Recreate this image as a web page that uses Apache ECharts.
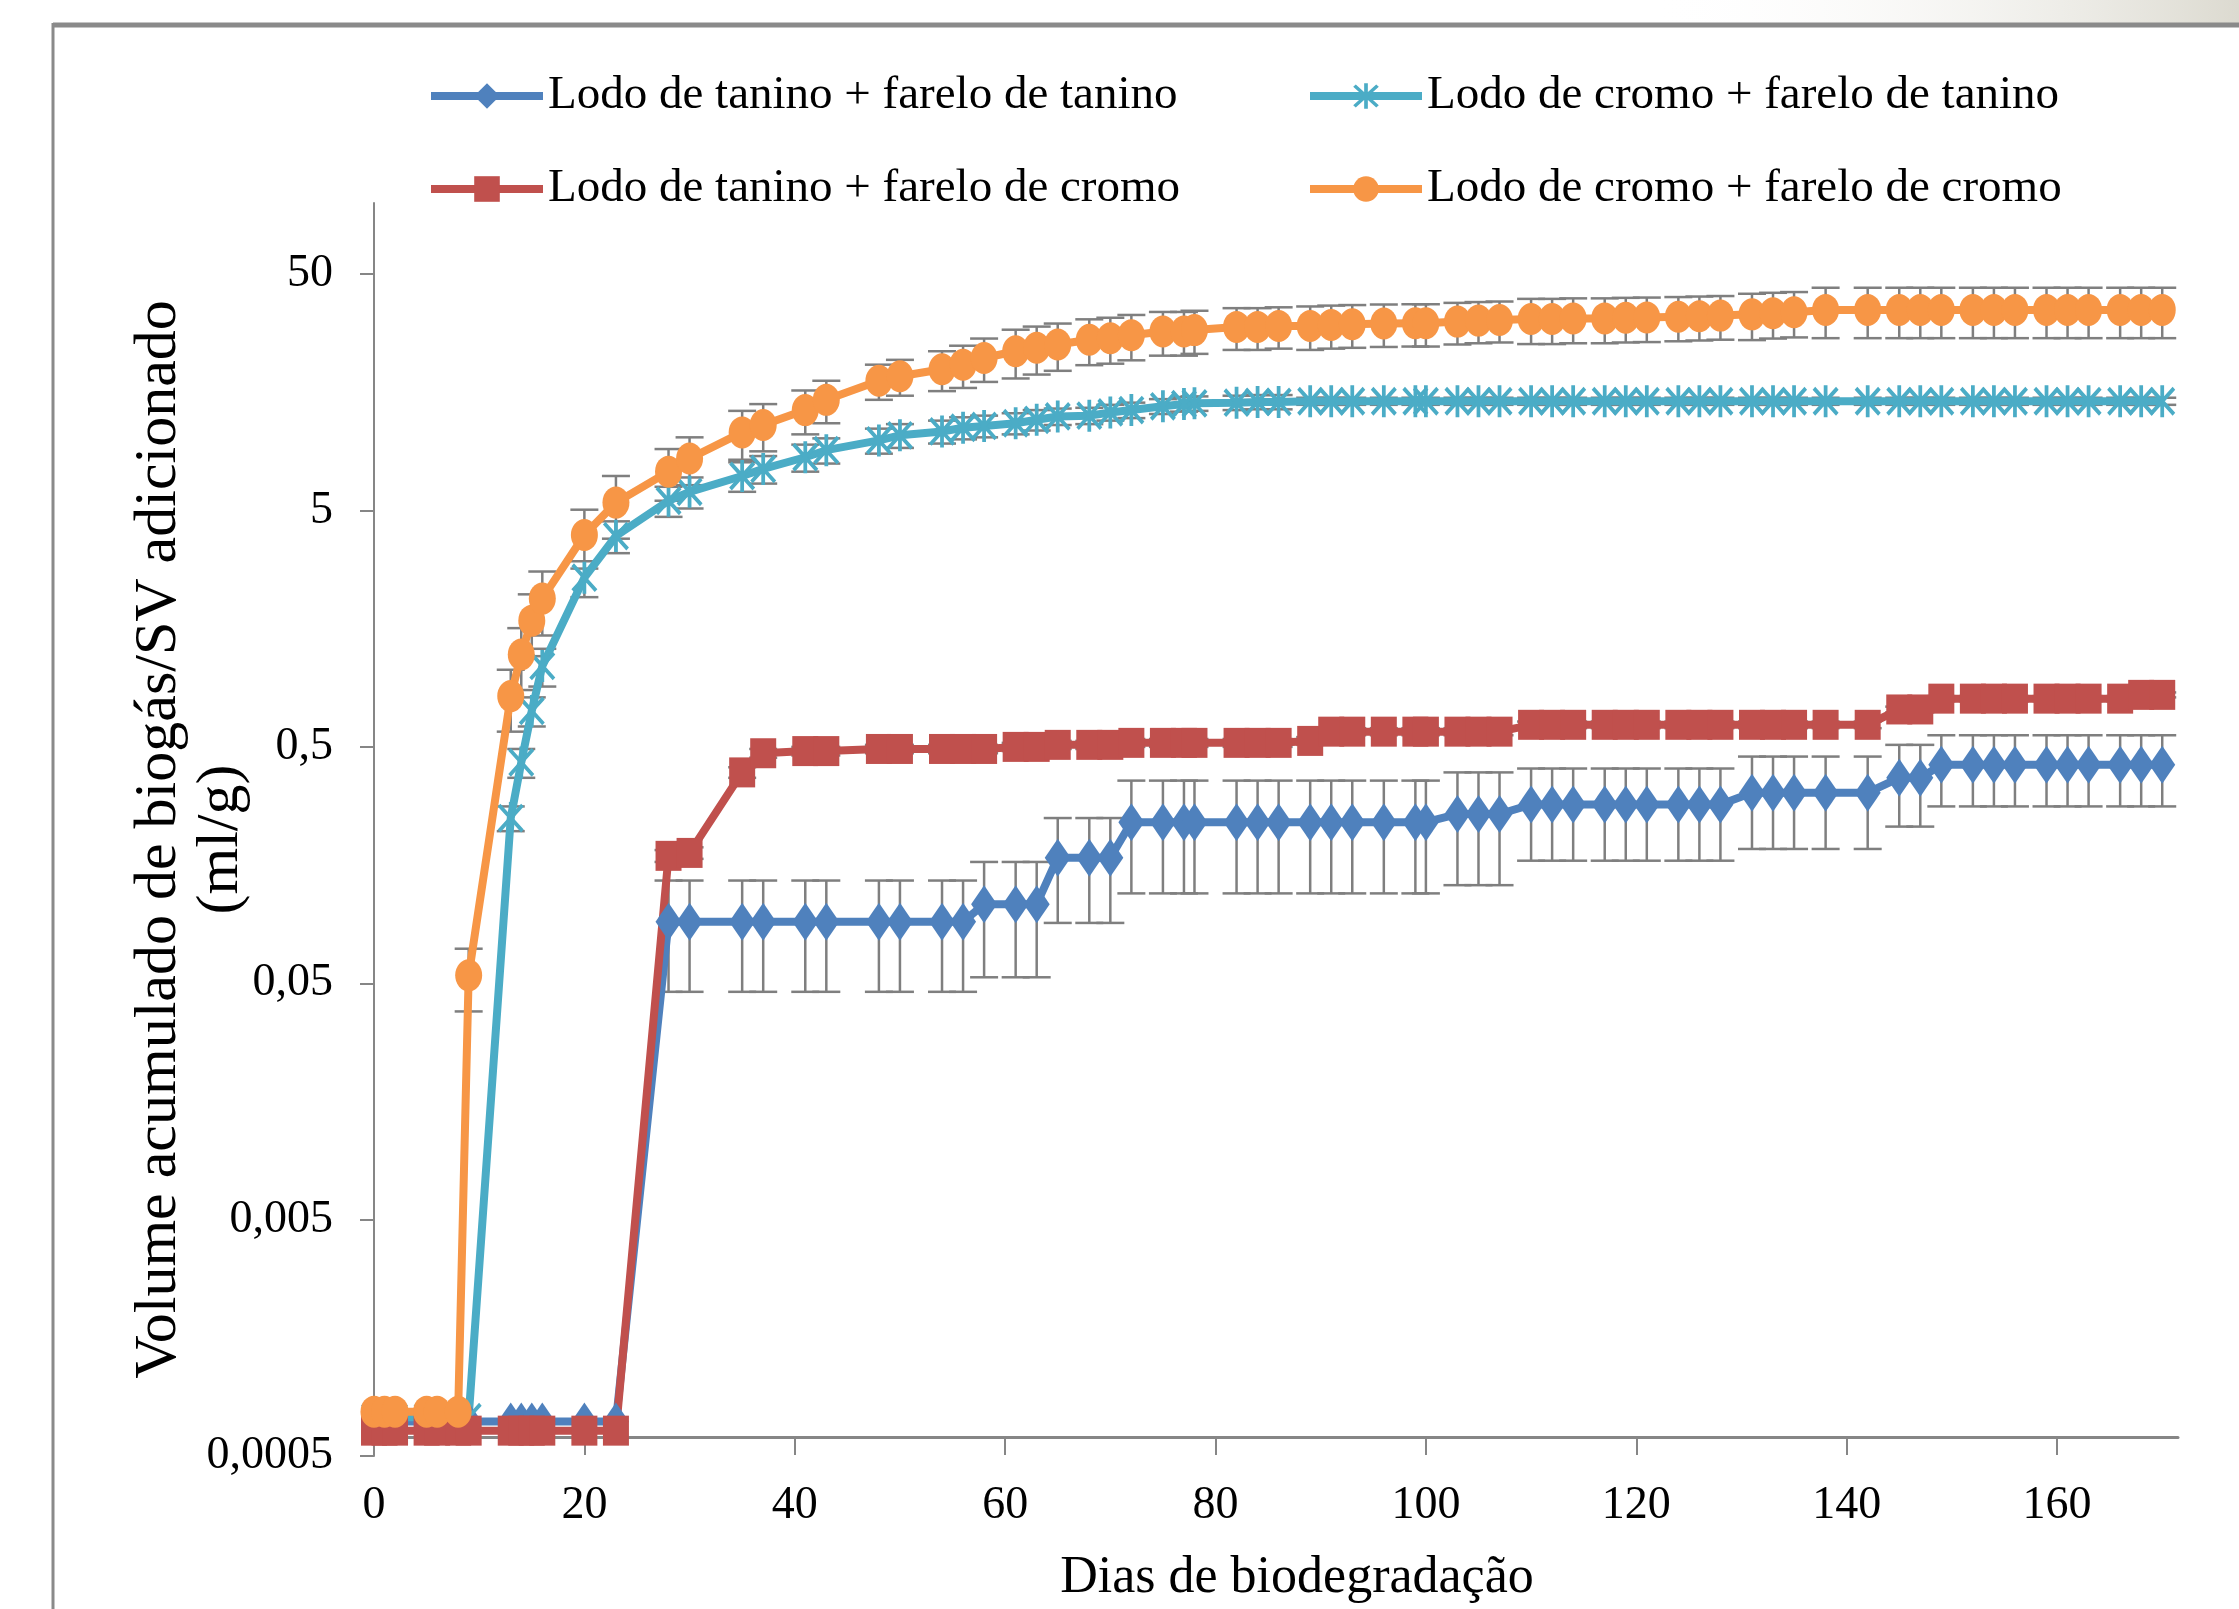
<!DOCTYPE html>
<html lang="pt">

<head>
    <meta charset="UTF-8">
    <title>Volume acumulado de biogás</title>
    <style>
        * {
            margin: 0;
        }

        html,
        body,
        #chart {
            width: 2239px;
            height: 1609px;
            background: #fff;
        }
    </style>
</head>

<body>
    <div id="chart"></div>
    <script src="https://cdn.jsdelivr.net/npm/echarts@6/dist/echarts.min.js"></script>
    <script>
        // dias de medição
        var dias = [0, 1, 2, 5, 6, 8, 9, 13, 14, 15,
            16, 20, 23, 28, 30, 35, 37, 41, 43, 48,
            50, 54, 56, 58, 61, 63, 65, 68, 70, 72,
            75, 77, 78, 82, 84, 86, 89, 91, 93, 96,
            99, 100, 103, 105, 107, 110, 112, 114, 117, 119,
            121, 124, 126, 128, 131, 133, 135, 138, 142, 145,
            147, 149, 152, 154, 156, 159, 161, 163, 166, 168,
            170];

        var nomes = ['Lodo de tanino + farelo de tanino', 'Lodo de cromo + farelo de tanino',
            'Lodo de tanino + farelo de cromo', 'Lodo de cromo + farelo de cromo'];

        // lodo de tanino + farelo de tanino
        var taninoTanino = [0.0007, 0.0007, 0.0007, 0.0007, 0.0007, 0.0007, 0.0007, 0.0007, 0.0007, 0.0007,
            0.0007, 0.0007, 0.0007, 0.091, 0.091, 0.091, 0.091, 0.091, 0.091, 0.091,
            0.091, 0.091, 0.091, 0.108, 0.108, 0.108, 0.17, 0.17, 0.17, 0.24,
            0.24, 0.24, 0.24, 0.24, 0.24, 0.24, 0.24, 0.24, 0.24, 0.24,
            0.24, 0.24, 0.26, 0.26, 0.26, 0.285, 0.285, 0.285, 0.285, 0.285,
            0.285, 0.285, 0.285, 0.285, 0.32, 0.32, 0.32, 0.32, 0.32, 0.37,
            0.37, 0.42, 0.42, 0.42, 0.42, 0.42, 0.42, 0.42, 0.42, 0.42,
            0.42];
        var erroTaninoTanino = [0, 0, 0, 0, 0, 0, 0, 0, 0, 0,
            0, 0, 0, 0.045, 0.045, 0.045, 0.045, 0.045, 0.045, 0.045,
            0.045, 0.045, 0.045, 0.055, 0.055, 0.055, 0.08, 0.08, 0.08, 0.12,
            0.12, 0.12, 0.12, 0.12, 0.12, 0.12, 0.12, 0.12, 0.12, 0.12,
            0.12, 0.12, 0.13, 0.13, 0.13, 0.12, 0.12, 0.12, 0.12, 0.12,
            0.12, 0.12, 0.12, 0.12, 0.135, 0.135, 0.135, 0.135, 0.135, 0.14,
            0.14, 0.14, 0.14, 0.14, 0.14, 0.14, 0.14, 0.14, 0.14, 0.14,
            0.14];

        // lodo de cromo + farelo de tanino
        var cromoTanino = [0.00073, 0.00073, 0.00073, 0.00073, 0.00073, 0.00073, 0.00073, 0.25, 0.43, 0.71,
            1.1, 2.6, 3.9, 5.5, 6.0, 7.0, 7.5, 8.4, 9.0, 9.9,
            10.4, 10.8, 11.2, 11.4, 11.7, 12.1, 12.5, 12.6, 13.0, 13.3,
            13.8, 14.1, 14.2, 14.3, 14.4, 14.4, 14.5, 14.5, 14.5, 14.5,
            14.5, 14.5, 14.5, 14.5, 14.5, 14.5, 14.5, 14.5, 14.5, 14.5,
            14.5, 14.5, 14.5, 14.5, 14.5, 14.5, 14.5, 14.5, 14.5, 14.5,
            14.5, 14.5, 14.5, 14.5, 14.5, 14.5, 14.5, 14.5, 14.5, 14.5,
            14.5];
        var erroCromoTanino = [0, 0, 0, 0, 0, 0, 0, 0.03, 0.06, 0.1,
            0.2, 0.45, 0.6, 0.8, 0.9, 1.0, 1.0, 1.1, 1.1, 1.2,
            1.2, 1.2, 1.2, 1.2, 1.2, 1.2, 1.0, 1.0, 1.0, 1.0,
            1.0, 1.0, 1.0, 1.0, 1.0, 1.0, 0.5, 0.5, 0.5, 0.5,
            0.5, 0.5, 0.5, 0.5, 0.5, 0.5, 0.5, 0.5, 0.5, 0.5,
            0.5, 0.5, 0.5, 0.5, 0.5, 0.5, 0.5, 0.5, 0.5, 0.5,
            0.5, 0.5, 0.5, 0.5, 0.5, 0.5, 0.5, 0.5, 0.5, 0.5,
            0.5];

        // lodo de tanino + farelo de cromo
        var taninoCromo = [0.00064, 0.00064, 0.00064, 0.00064, 0.00064, 0.00064, 0.00064, 0.00064, 0.00064, 0.00064,
            0.00064, 0.00064, 0.00064, 0.173, 0.178, 0.39, 0.47, 0.48, 0.48, 0.49,
            0.49, 0.49, 0.49, 0.49, 0.50, 0.50, 0.51, 0.51, 0.51, 0.52,
            0.52, 0.52, 0.52, 0.52, 0.52, 0.52, 0.53, 0.58, 0.58, 0.58,
            0.58, 0.58, 0.58, 0.58, 0.58, 0.62, 0.62, 0.62, 0.62, 0.62,
            0.62, 0.62, 0.62, 0.62, 0.62, 0.62, 0.62, 0.62, 0.62, 0.72,
            0.72, 0.80, 0.80, 0.80, 0.80, 0.80, 0.80, 0.80, 0.80, 0.83,
            0.83];
        var erroTaninoCromo = [0, 0, 0, 0, 0, 0, 0, 0, 0, 0,
            0, 0, 0, 0.01, 0.01, 0.02, 0.02, 0.02, 0.02, 0.02,
            0.02, 0.02, 0.02, 0.02, 0.02, 0.02, 0.02, 0.02, 0.02, 0.02,
            0.02, 0.02, 0.02, 0.02, 0.02, 0.02, 0.02, 0.02, 0.02, 0.02,
            0.02, 0.02, 0.02, 0.02, 0.02, 0.02, 0.02, 0.02, 0.02, 0.02,
            0.02, 0.02, 0.02, 0.02, 0.02, 0.02, 0.02, 0.02, 0.02, 0.02,
            0.02, 0.02, 0.02, 0.02, 0.02, 0.02, 0.02, 0.02, 0.02, 0.02,
            0.02];

        // lodo de cromo + farelo de cromo
        var cromoCromo = [0.00077, 0.00077, 0.00077, 0.00077, 0.00077, 0.00077, 0.054, 0.82, 1.23, 1.71,
            2.12, 3.94, 5.4, 7.3, 8.3, 10.7, 11.5, 13.3, 14.7, 17.7,
            18.5, 19.8, 20.7, 22.1, 23.6, 24.4, 25.2, 26.4, 26.8, 27.6,
            28.6, 28.6, 29.0, 29.9, 29.9, 30.2, 30.2, 30.5, 30.7, 30.9,
            31.0, 31.0, 31.5, 31.8, 32.0, 32.3, 32.3, 32.5, 32.5, 32.7,
            32.8, 33.0, 33.2, 33.4, 33.8, 34.2, 34.5, 35.3, 35.3, 35.3,
            35.3, 35.3, 35.3, 35.3, 35.3, 35.3, 35.3, 35.3, 35.3, 35.3,
            35.3];
        var erroCromoCromo = [0, 0, 0, 0, 0, 0, 0.016, 0.24, 0.36, 0.5,
            0.64, 1.1, 1.6, 1.8, 1.9, 2.5, 2.6, 2.8, 3.0, 3.0,
            3.2, 3.8, 4.2, 4.6, 5.5, 5.6, 5.7, 5.8, 5.9, 6.0,
            6.0, 6.0, 6.0, 6.0, 6.0, 6.0, 6.3, 6.3, 6.3, 6.3,
            6.3, 6.3, 6.3, 6.3, 6.3, 7.0, 7.0, 7.0, 7.0, 7.0,
            7.0, 7.0, 7.0, 7.0, 7.5, 7.5, 7.5, 8.5, 8.5, 8.5,
            8.5, 8.5, 8.5, 8.5, 8.5, 8.5, 8.5, 8.5, 8.5, 8.5,
            8.5];

        var xTicks = [0, 20, 40, 60, 80, 100, 120, 140, 160];
        var yTicks = [0.0005, 0.005, 0.05, 0.5, 5, 50];

        var fonte = '"Liberation Serif", "Times New Roman", serif';
        var cinza = '#7f7f7f';
        var estrela = 'path://M8.7,0 L11.3,0 L11.3,20 L8.7,20 Z M1,2.8 L2.8,1 L19,17.2 L17.2,19 Z M17.2,1 L19,2.8 L2.8,19 L1,17.2 Z';

        function pontos(vals) {
            return dias.map(function (d, i) { return [d, vals[i]]; });
        }

        function barras(vals, erros) {
            var out = [];
            for (var i = 0; i < dias.length; i++) {
                if (erros[i] > 0) out.push([dias[i], vals[i] - erros[i], vals[i] + erros[i]]);
            }
            return out;
        }

        function desenhaBarra(params, api) {
            var x = api.value(0);
            var topo = api.coord([x, api.value(2)]);
            var base = api.coord([x, api.value(1)]);
            var m = 14;
            var st = { stroke: cinza, lineWidth: 2.5 };
            return {
                type: 'group',
                children: [
                    { type: 'line', shape: { x1: topo[0], y1: topo[1], x2: base[0], y2: base[1] }, style: st },
                    { type: 'line', shape: { x1: topo[0] - m, y1: topo[1], x2: topo[0] + m, y2: topo[1] }, style: st },
                    { type: 'line', shape: { x1: base[0] - m, y1: base[1], x2: base[0] + m, y2: base[1] }, style: st }
                ]
            };
        }

        function serieErro(nome, vals, erros) {
            return {
                name: nome,
                type: 'custom',
                renderItem: desenhaBarra,
                data: barras(vals, erros),
                encode: { x: 0, y: [1, 2] },
                z: 1,
                silent: true
            };
        }

        function serieLinha(nome, vals, cor, simbolo, tamanho) {
            return {
                name: nome,
                type: 'line',
                data: pontos(vals),
                symbol: simbolo,
                symbolSize: tamanho,
                showAllSymbol: true,
                lineStyle: { color: cor, width: 8 },
                itemStyle: { color: cor, opacity: 1 },
                z: 3
            };
        }

        var chart = echarts.init(document.getElementById('chart'));

        var legendaTexto = { fontFamily: fonte, fontSize: 47, lineHeight: 48, color: '#000' };

        function legenda(esq, itens) {
            return {
                orient: 'vertical', left: esq, top: 67,
                itemWidth: 112, itemHeight: 32, itemGap: 45,
                data: itens,
                lineStyle: { width: 8 },
                textStyle: legendaTexto,
                selectedMode: false
            };
        }

        var option = {
            animation: false,
            backgroundColor: '#fff',
            graphic: [
                {
                    type: 'rect', silent: true,
                    shape: { x: 1650, y: 0, width: 589, height: 23 },
                    style: {
                        fill: new echarts.graphic.LinearGradient(0, 0, 1, 0, [
                            { offset: 0, color: 'rgba(255,255,255,0)' },
                            { offset: 1, color: '#dcdad0' }
                        ])
                    }
                },
                { type: 'line', silent: true, shape: { x1: 53, y1: 25, x2: 2239, y2: 25 }, style: { stroke: '#8a8a8a', lineWidth: 5 } },
                { type: 'line', silent: true, shape: { x1: 53, y1: 23, x2: 53, y2: 1609 }, style: { stroke: '#8a8a8a', lineWidth: 3 } }
            ],
            legend: [
                legenda(422, [nomes[0], nomes[2]]),
                legenda(1301, [nomes[1], nomes[3]])
            ],
            grid: {
                left: 374,
                top: 203,
                width: 1804,
                height: 1256,
                containLabel: false
            },
            xAxis: {
                type: 'value',
                min: 0,
                max: 171.5,
                offset: -19,
                name: 'Dias de biodegradação',
                nameLocation: 'middle',
                nameGap: 115,
                nameTextStyle: { fontFamily: fonte, fontSize: 52, color: '#000', padding: [0, 0, 0, 42] },
                axisLine: { show: true, lineStyle: { color: '#868686', width: 3 } },
                axisTick: { show: true, length: 18, customValues: xTicks, lineStyle: { color: '#868686', width: 2 } },
                axisLabel: { customValues: xTicks, margin: 46, fontFamily: fonte, fontSize: 46, color: '#000' },
                splitLine: { show: false }
            },
            yAxis: {
                type: 'log',
                logBase: 10,
                min: 0.0005,
                max: 100,
                name: 'Volume acumulado de biogás/SV adicionado\n(ml/g)',
                nameLocation: 'middle',
                nameGap: 122,
                nameRotate: 90,
                nameMoveOverlap: false,
                nameTextStyle: { fontFamily: fonte, fontSize: 60, lineHeight: 62, color: '#000', padding: [0, 20, 0, 0] },
                axisLine: { show: true, lineStyle: { color: '#868686', width: 2 } },
                axisTick: { show: true, length: 14, customValues: yTicks, lineStyle: { color: '#868686', width: 2 } },
                axisLabel: {
                    customValues: yTicks,
                    margin: 41,
                    fontFamily: fonte,
                    fontSize: 46,
                    color: '#000',
                    formatter: function (v) { return String(v).replace('.', ','); }
                },
                splitLine: { show: false },
                minorTick: { show: false }
            },
            series: [
                serieErro('erro1', taninoTanino, erroTaninoTanino),
                serieErro('erro2', cromoTanino, erroCromoTanino),
                serieErro('erro3', taninoCromo, erroTaninoCromo),
                serieErro('erro4', cromoCromo, erroCromoCromo),
                serieLinha(nomes[0], taninoTanino, '#4F81BD', 'diamond', [26, 38]),
                serieLinha(nomes[1], cromoTanino, '#4BACC6', estrela, [26, 32]),
                serieLinha(nomes[2], taninoCromo, '#C0504D', 'rect', [26, 30]),
                serieLinha(nomes[3], cromoCromo, '#F79646', 'circle', [27, 32])
            ]
        };

        chart.setOption(option);
    </script>
</body>

</html>
